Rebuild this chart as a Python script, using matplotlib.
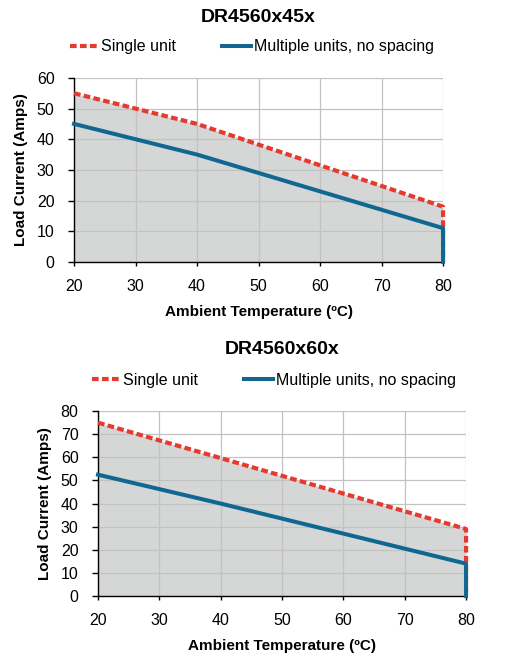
import matplotlib
matplotlib.use("Agg")
import matplotlib.pyplot as plt
from matplotlib.lines import Line2D

plt.rcParams['font.family'] = ['Liberation Sans', 'DejaVu Sans']

# chart data
temp_45 = [20, 40, 80, 80]
single_45 = [55, 45, 18, 0]
multi_temp_45 = [20, 40, 80, 80]
multi_45 = [45, 35, 11, 0]

temp_60 = [20, 80, 80]
single_60 = [75, 29, 0]
multi_temp_60 = [20, 40, 80, 80]
multi_60 = [52.5, 40, 14, 0]

x_ticks = [20, 30, 40, 50, 60, 70, 80]
y_ticks_45 = [0, 10, 20, 30, 40, 50, 60]
y_ticks_60 = [0, 10, 20, 30, 40, 50, 60, 70, 80]

titles = ["DR4560x45x", "DR4560x60x"]
labels = ["Single unit", "Multiple units, no spacing"]

RED = "#e53a30"
BLUE = "#10678f"
FILL = "#d5d6d6"
GRID = "#c2c2c2"

fig = plt.figure(figsize=(5.14, 6.58), dpi=100)


def draw(rect, tx, sy, mx, my, yticks, title, title_y, leg_y, leg_x):
    ax = fig.add_axes(rect)
    ax.fill_between(tx, 0, sy, color=FILL, lw=0, zorder=0.2)
    ax.plot(tx, sy, color=RED, lw=3.0, ls=(0, (1.6, 0.8)), clip_on=False, zorder=3,
            dash_capstyle='butt')
    ax.plot(mx, my, color=BLUE, lw=2.9, clip_on=False, zorder=4)
    ax.set_xlim(20, 80)
    ax.set_ylim(0, yticks[-1])
    ax.set_xticks(x_ticks)
    ax.set_yticks(yticks)
    ax.set_axisbelow(True)
    ax.grid(True, color=GRID, lw=0.9)
    for s in ['top', 'right']:
        ax.spines[s].set_visible(False)
    ax.spines['left'].set_linewidth(1.0)
    ax.spines['bottom'].set_linewidth(1.0)
    ax.tick_params(axis='y', length=4, width=1, labelsize=11.5, pad=10)
    ax.tick_params(axis='x', length=3, width=1, labelsize=11.5, pad=9)
    ax.set_xlabel("Ambient Temperature (ºC)", fontsize=11, fontweight='bold', labelpad=8)
    ax.set_ylabel("Load Current (Amps)", fontsize=11, fontweight='bold', labelpad=6)
    fig.text(rect[0] + rect[2] / 2, title_y, title, ha='center', va='center',
             fontsize=14, fontweight='bold')
    handles = [Line2D([], [], color=RED, lw=3.0, ls=(0, (1.6, 0.8))),
               Line2D([], [], color=BLUE, lw=2.9)]
    fig.legend(handles, labels, loc='center left', bbox_to_anchor=(leg_x, leg_y),
               ncol=2, frameon=False, fontsize=11.5, handlelength=1.8,
               handletextpad=0.15, columnspacing=2.9, borderpad=0, borderaxespad=0)
    return ax


draw([0.144, 0.602, 0.718, 0.2796], temp_45, single_45, multi_temp_45, multi_45,
     y_ticks_45, titles[0], 1 - 17 / 658, 1 - 47 / 658, 70 / 514)
draw([0.1907, 0.0942, 0.716, 0.281], temp_60, single_60, multi_temp_60, multi_60,
     y_ticks_60, titles[1], 1 - 350 / 658, 1 - 380 / 658, 92 / 514)

fig.savefig("out.png", dpi=100)
